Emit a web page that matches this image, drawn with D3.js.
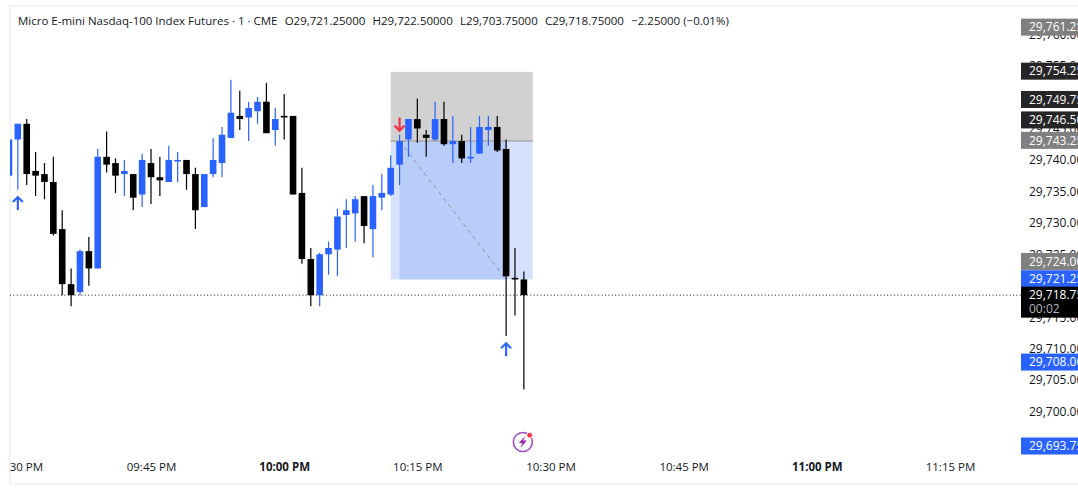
<!DOCTYPE html>
<html>
<head>
<meta charset="utf-8">
<script src="https://cdn.jsdelivr.net/npm/d3@7"></script>
<style>
  body { margin: 0; background: #fff; }
  text { font-family: "Open Sans", sans-serif; }
</style>
</head>
<body>
<div id="chart"></div>
<script>
// Candles are one minute apart, the first one opens at 09:29 PM
const firstCandle = new Date(2025, 0, 15, 21, 29);
const opens = [29737.75, 29743.5, 29746, 29738.5, 29738, 29736.75, 29729.25, 29720.5, 29719.25, 29725.75,
  29723, 29740.75, 29739.75, 29738, 29738, 29734.75, 29739.75, 29737.5, 29736.75, 29740,
  29740.25, 29738, 29732.75, 29738, 29739.75, 29743.75, 29747.25, 29747, 29748, 29749.5,
  29745, 29747.25, 29747.25, 29735, 29724.5, 29718.75, 29725.25, 29726, 29731.5, 29731.75,
  29734.5, 29729.25, 29734.25, 29734.75, 29739.5, 29743.5, 29746.75, 29744.25, 29743.5, 29746.75,
  29742.75, 29743.25, 29740.5, 29741.25, 29745, 29745.5, 29742, 29721.5, 29721.25];
const highs = [29743.5, 29746, 29746.75, 29741.5, 29739.75, 29740.75, 29732.25, 29723, 29726, 29728,
  29742, 29744.75, 29740.5, 29740.25, 29738, 29741.25, 29742, 29740.75, 29742.5, 29741.5,
  29740.25, 29739, 29738, 29743.75, 29745.5, 29753, 29751.25, 29749.5, 29750.25, 29752.5,
  29748.5, 29750.75, 29747.25, 29739, 29726.25, 29725.5, 29727.25, 29732.5, 29734, 29734.5,
  29734.5, 29736.25, 29738, 29741, 29744.25, 29746.75, 29750, 29745, 29749.5, 29749.5,
  29747.25, 29744.25, 29745.5, 29747.25, 29747.25, 29747.25, 29743.5, 29726.25, 29722.5];
const lows = [29737.75, 29735.5, 29736.25, 29734.5, 29734, 29728.25, 29718.75, 29717, 29718.75, 29720.25,
  29723, 29738.25, 29735, 29734.5, 29732.25, 29732.75, 29733.25, 29734.5, 29736.75, 29736.75,
  29735.5, 29729.25, 29732.75, 29737.5, 29737.5, 29743.75, 29745, 29743.25, 29746, 29744.5,
  29742.5, 29743.5, 29734.75, 29723.75, 29717, 29717, 29722, 29721.75, 29726.25, 29727.25,
  29727, 29724.75, 29732.25, 29734.5, 29736.25, 29740.75, 29743, 29740.75, 29743.25, 29742.5,
  29739.75, 29739.75, 29739.75, 29741.25, 29742.5, 29741.5, 29712.25, 29715.5, 29703.75];
const closes = [29743.5, 29746, 29738, 29737.75, 29736.75, 29728.5, 29720.5, 29718.75, 29725.75, 29723,
  29740.75, 29739.5, 29737.75, 29738.5, 29734.25, 29740.25, 29737.5, 29737, 29740.25, 29740.25,
  29738, 29732.25, 29738, 29740.25, 29744.25, 29747.75, 29746.75, 29748.5, 29749.5, 29744.5,
  29746.75, 29747, 29734.75, 29724.5, 29718.75, 29725.25, 29726.25, 29731.25, 29732.25, 29734,
  29729.75, 29734.5, 29735, 29739, 29743.25, 29746.75, 29745.25, 29743.75, 29746.75, 29742.75,
  29743.25, 29740.5, 29740.75, 29745.5, 29745.5, 29741.75, 29721.75, 29721.25, 29718.75];

const priceTicks = [29760, 29755, 29750, 29745, 29740, 29735, 29730, 29725, 29720, 29715, 29710, 29705, 29700];
const timeTicks = [[21, 30], [21, 45], [22, 0], [22, 15], [22, 30], [22, 45], [23, 0], [23, 15]];

// Price tags on the right axis
const tagPrices = [29761.25, 29754.25, 29749.75, 29746.5, 29743.25, 29724, 29721.25, 29708, 29693.75];
const tagKinds = ["gray", "dark", "dark", "dark", "gray", "gray", "blue", "blue", "blue"];
const lastPrice = 29718.75;
const countdown = "00:02";

// Long position tool: stop, entry, target, and its time span
const toolStop = 29754.25, toolEntry = 29743.25, toolTarget = 29721.25;
const toolStart = new Date(2025, 0, 15, 22, 12), toolEntryTime = new Date(2025, 0, 15, 22, 13);
const toolExit = new Date(2025, 0, 15, 22, 25), toolEnd = new Date(2025, 0, 15, 22, 28);

// Signal arrows: minute index of the candle, price of the tip, direction
const signalIndex = [1, 56, 44];
const signalPrice = [29734.5, 29711.25, 29744.75];
const signalDir = ["up", "up", "down"];

const headerParts = ["Micro E-mini Nasdaq-100 Index Futures · 1 · CME", "O29,721.25000", "H29,722.50000", "L29,703.75000", "C29,718.75000", "−2.25000 (−0.01%)"];

const width = 1078, height = 489;
const paneLeft = 10, paneRight = 1021, paneTop = 6, paneBottom = 484;
const BLUE = "#2962ff", BLACK = "#000";

const svg = d3.select("#chart").append("svg")
  .attr("width", width).attr("height", height)
  .style("display", "block");

const x = d3.scaleTime()
  .domain([new Date(2025, 0, 15, 21, 45), new Date(2025, 0, 15, 23, 15)])
  .range([151, 950]);
const y = d3.scaleLinear()
  .domain([29740, 29700])
  .range([161.5, 413.1]);

const defs = svg.append("defs");
defs.append("clipPath").attr("id", "pane").append("rect")
  .attr("x", paneLeft).attr("y", paneTop)
  .attr("width", width - paneLeft).attr("height", paneBottom - paneTop);

// Frame
svg.append("path")
  .attr("d", `M${width},${paneTop}H${paneLeft}V${paneBottom}H${width}`)
  .attr("fill", "none").attr("stroke", "#f0f1f3").attr("stroke-width", 1.5);

// Position tool
const tool = svg.append("g");
tool.append("rect")
  .attr("x", x(toolStart)).attr("y", y(toolStop))
  .attr("width", x(toolEnd) - x(toolStart)).attr("height", y(toolEntry) - y(toolStop))
  .attr("fill", "#d1d1d1");
tool.append("rect")
  .attr("x", x(toolStart)).attr("y", y(toolEntry))
  .attr("width", x(toolEnd) - x(toolStart)).attr("height", y(toolTarget) - y(toolEntry))
  .attr("fill", "#d6e2fd");
tool.append("rect")
  .attr("x", x(toolEntryTime)).attr("y", y(toolEntry))
  .attr("width", x(toolExit) - x(toolEntryTime)).attr("height", y(toolTarget) - y(toolEntry))
  .attr("fill", "#b9cdfb");
tool.append("line")
  .attr("x1", x(toolStart)).attr("x2", x(toolEnd))
  .attr("y1", y(toolEntry)).attr("y2", y(toolEntry))
  .attr("stroke", "#a9a9a9").attr("stroke-width", 1.5);
tool.append("line")
  .attr("x1", x(toolEntryTime)).attr("x2", x(toolExit))
  .attr("y1", y(toolEntry)).attr("y2", y(toolTarget))
  .attr("stroke", "#8f939c").attr("stroke-width", 1).attr("stroke-dasharray", "4 4");

// Last price line
svg.append("line")
  .attr("x1", paneLeft).attr("x2", paneRight)
  .attr("y1", y(lastPrice)).attr("y2", y(lastPrice))
  .attr("stroke", "#131722").attr("stroke-width", 1).attr("stroke-dasharray", "1 2.4");

// Candles
const candles = opens.map((o, i) => ({
  time: d3.timeMinute.offset(firstCandle, i),
  open: o, high: highs[i], low: lows[i], close: closes[i]
}));
const colorOf = d => d.close >= d.open ? BLUE : BLACK;
const candleG = svg.append("g").attr("clip-path", "url(#pane)")
  .selectAll("g").data(candles).enter().append("g");
candleG.append("line")
  .attr("x1", d => x(d.time)).attr("x2", d => x(d.time))
  .attr("y1", d => y(d.high)).attr("y2", d => y(d.low))
  .attr("stroke", colorOf).attr("stroke-width", 1.2);
candleG.append("rect")
  .attr("x", d => x(d.time) - 3.3).attr("width", 6.6)
  .attr("y", d => y(Math.max(d.open, d.close)))
  .attr("height", d => Math.max(1.6, Math.abs(y(d.open) - y(d.close))))
  .attr("fill", colorOf);

// Signal arrows
signalIndex.forEach((idx, i) => {
  const cx = x(d3.timeMinute.offset(firstCandle, idx));
  const up = signalDir[i] === "up";
  const tip = y(signalPrice[i]);
  const s = up ? 1 : -1;
  svg.append("path")
    .attr("d", `M${cx},${tip + s * 1}V${tip + s * 14}M${cx - 5},${tip + s * 6}L${cx},${tip + s * 1}L${cx + 5},${tip + s * 6}`)
    .attr("fill", "none")
    .attr("stroke", up ? "#2f66f5" : "#f23645")
    .attr("stroke-width", 2.2);
});

// Alert icon
const iconX = x(new Date(2025, 0, 15, 22, 27)) - 1, iconY = 442;
svg.append("circle").attr("cx", iconX).attr("cy", iconY).attr("r", 9.5)
  .attr("fill", "#fff").attr("stroke", "#a54cc4").attr("stroke-width", 1.6);
svg.append("path")
  .attr("d", `M${iconX + 2.5},${iconY - 6}L${iconX - 4},${iconY + 1}H${iconX - 0.5}L${iconX - 2.5},${iconY + 6}L${iconX + 4},${iconY - 1.5}H${iconX + 0.5}Z`)
  .attr("fill", "#9c27b0");
svg.append("circle").attr("cx", iconX + 6.8).attr("cy", iconY - 6.8).attr("r", 2.8)
  .attr("fill", "#f23645").attr("stroke", "#fff").attr("stroke-width", 0.8);

// Price axis
const priceAxis = svg.append("g")
  .attr("transform", `translate(1029,-1.5)`)
  .call(d3.axisRight(y).tickValues(priceTicks).tickSize(0).tickPadding(0).tickFormat(d3.format(",.2f")));
priceAxis.select(".domain").remove();
priceAxis.selectAll("text").attr("font-size", 12).attr("fill", "#131722")
  .style("font-family", '"Open Sans", sans-serif');

// Time axis
const timeAxis = svg.append("g")
  .attr("clip-path", "url(#pane)")
  .append("g")
  .attr("transform", "translate(0,463)")
  .call(d3.axisBottom(x)
    .tickValues(timeTicks.map(t => new Date(2025, 0, 15, t[0], t[1])))
    .tickSize(0).tickPadding(0)
    .tickFormat(d3.timeFormat("%I:%M %p")));
timeAxis.select(".domain").remove();
timeAxis.selectAll("text").attr("font-size", 11.5).attr("fill", "#131722")
  .style("font-family", '"Open Sans", sans-serif')
  .attr("font-weight", d => d.getMinutes() === 0 ? 700 : 400);

// Price tags
const tagFill = { gray: "#808080", dark: "#262626", blue: BLUE };
const tagY = p => Math.min(y(p) - 0.7, 446);
const tags = svg.append("g").selectAll("g").data(tagPrices).enter().append("g");
tags.append("rect")
  .attr("x", paneRight).attr("width", width - paneRight)
  .attr("y", d => tagY(d) - 8.5).attr("height", 17)
  .attr("fill", (d, i) => tagFill[tagKinds[i]]);
tags.append("text")
  .attr("x", 1029).attr("y", d => tagY(d)).attr("dy", "0.36em")
  .attr("font-size", 12).attr("fill", "#fff")
  .text(d3.format(",.2f"));

const lastY = y(lastPrice);
svg.append("rect")
  .attr("x", paneRight).attr("width", width - paneRight)
  .attr("y", lastY - 8.5).attr("height", 31).attr("fill", BLACK);
svg.append("text")
  .attr("x", 1029).attr("y", lastY).attr("dy", "0.36em")
  .attr("font-size", 12).attr("fill", "#fff")
  .text(d3.format(",.2f")(lastPrice));
svg.append("text")
  .attr("x", 1029).attr("y", lastY + 14).attr("dy", "0.36em")
  .attr("font-size", 12).attr("fill", "#b2b5be")
  .text(countdown);

// Header, with the wider gaps between the OHLC readings
svg.append("text")
  .attr("x", 18).attr("y", 20.5).attr("dy", "0.36em")
  .attr("font-size", 11.5).attr("fill", "#131722")
  .selectAll("tspan").data(headerParts).enter().append("tspan")
  .attr("dx", (d, i) => i ? 7.2 : 0)
  .text(d => d);
</script>
</body>
</html>
